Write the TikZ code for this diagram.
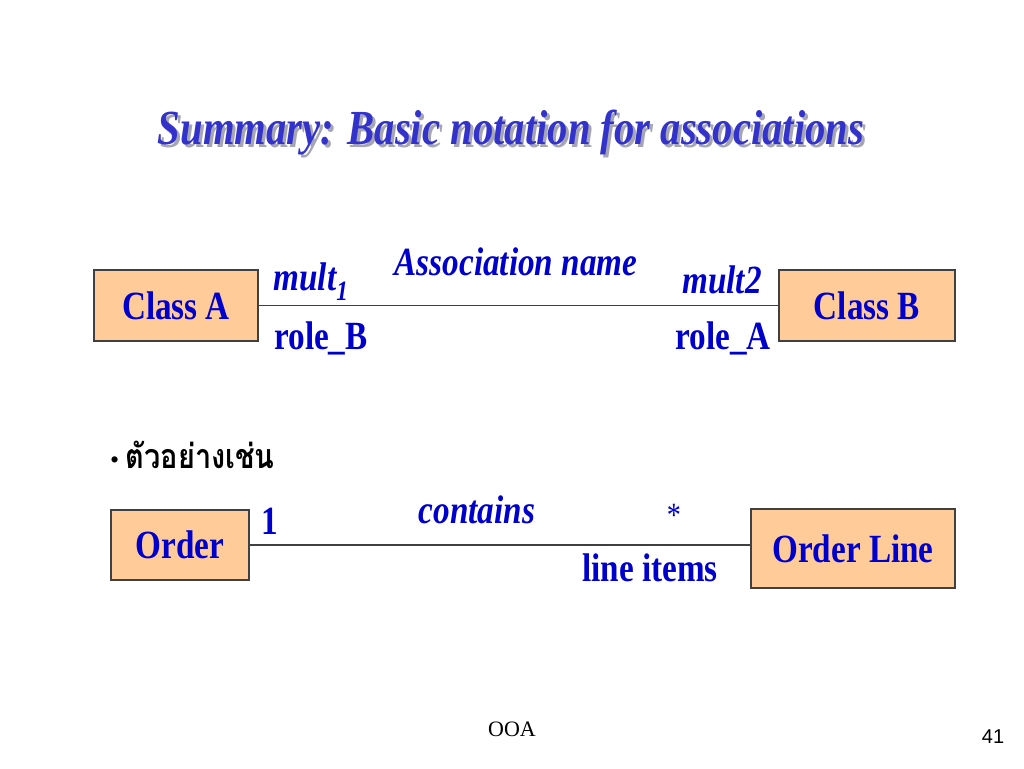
\documentclass[tikz,border=0pt]{standalone}
\usepackage{fontspec}
\setmainfont{Liberation Serif}[FakeStretch=0.83]
\newfontfamily\footfont{Liberation Serif}
\newfontfamily\numfont{Liberation Sans}
\newfontfamily\thaifont[Script=Thai,FakeStretch=0.85]{Loma}
\usetikzlibrary{positioning, calc}
\definecolor{txtblue}{RGB}{0,0,204}
\definecolor{ttlblue}{RGB}{51,51,204}
\definecolor{ttlshade}{RGB}{165,165,180}
\definecolor{boxfill}{RGB}{255,204,153}
\definecolor{boxline}{RGB}{64,64,64}
\newcommand{\bigfont}{\fontsize{40}{48}\selectfont\bfseries}

\begin{document}
\begin{tikzpicture}[x=1pt, y=-1pt,
	cls/.style={draw=boxline, line width=1.5pt, fill=boxfill, inner sep=0, font=\bigfont, text=txtblue},
	lbl/.style={inner sep=0, font=\bigfont, text=txtblue},
	ilbl/.style={inner sep=0, font=\bigfont\itshape, text=txtblue},
	assoc/.style={draw=boxline, line width=1.3pt}]
\useasboundingbox[fill=white] (0, 0) rectangle (1024, 768);
% title with its shadow
\node[inner sep=0, font=\fontsize{49}{56}\selectfont\bfseries\itshape, text=ttlshade] (titleshadow) at (514, 136) {Summary: Basic notation for associations};
\node[inner sep=0, font=\fontsize{49}{56}\selectfont\bfseries\itshape, text=ttlblue] (title) at (511, 133) {Summary: Basic notation for associations};
% general notation
\node[cls, minimum width=164, minimum height=71] (A) at (176, 305.5) {Class A};
\node[cls, minimum width=176, minimum height=71] (B) at (867, 305.5) {Class B};
\draw[assoc] (A.east) -- (B.west);
\node[ilbl] (assocname) at (516, 262) {Association name};
\node[ilbl] (mult1) at (311, 282) {mult\textsubscript{1}};
\node[ilbl] (mult2) at (722, 280) {mult2};
\node[lbl] (roleB) at (321, 338) {role\_B};
\node[lbl] (roleA) at (723, 338) {role\_A};
% example
\node[inner sep=0, anchor=west] (example) at (110, 455) {\fontsize{26}{30}\selectfont\footfont\textbullet\ \thaifont\fontsize{34}{38}\selectfont\bfseries ตัวอย่างเช่น};
\node[cls, minimum width=138, minimum height=70] (order) at (180, 545) {Order};
\node[cls, minimum width=204, minimum height=79] (line) at (853, 548.5) {Order Line};
\draw[assoc] (order.east) -- (order.east -| line.west);
\node[ilbl] (contains) at (477, 510) {contains};
\node[lbl] (one) at (270, 521) {1};
\node[inner sep=0, font=\fontsize{34}{40}\selectfont, text=txtblue] (many) at (674, 515) {*};
\node[lbl] (items) at (650, 568) {line items};
% footer
\node[inner sep=0, font=\fontsize{22}{26}\selectfont\footfont] (ooa) at (512, 729) {OOA};
\node[inner sep=0, font=\fontsize{20}{24}\selectfont\numfont] (page) at (993, 737) {41};
\end{tikzpicture}
\end{document}
